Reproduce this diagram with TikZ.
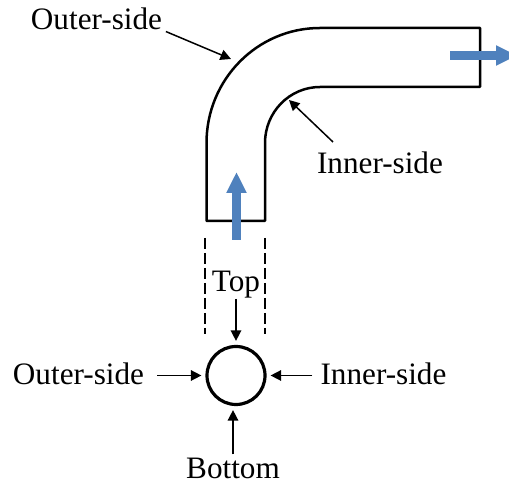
\documentclass[tikz,border=0pt]{standalone}
\usepackage{fontspec}
\setmainfont{Liberation Serif}
\usetikzlibrary{arrows.meta}
\definecolor{flowblue}{RGB}{79,129,189}
\tikzset{
    lbl/.style={anchor=base, inner sep=0pt, font=\fontsize{31.2}{34}\selectfont},
    pointer/.style={line width=1.5pt, -{Triangle[length=10.5pt,width=10.5pt]}},
    guide/.style={line width=1.4pt, dash pattern=on 11pt off 4pt},
    flow/.style={line width=9.5pt, flowblue, -{Triangle[length=21pt,width=19pt]}}
}
\begin{document}
\begin{tikzpicture}[x=1pt,y=1pt]
        \useasboundingbox (0,0) rectangle (509,486);
        % pipe
        \draw[line width=2.5pt, line join=round] (206.5,265) -- (206.5,343) arc (180:90:113.5 and 115) -- (480,458) -- (480,399) -- (320,399) arc (90:180:55 and 56) -- (265,265) -- cycle;
        % flow direction
        \coordinate (inS) at (236.5,246);
        \coordinate (inE) at (236.5,314);
        \coordinate (outS) at (450,430.5);
        \coordinate (outE) at (517,430.5);
        \draw[flow] (inS) -- (inE);
        \draw[flow] (outS) -- (outE);
        % projection of the pipe on the section
        \coordinate (gl1) at (205,248);
        \coordinate (gl2) at (205,152);
        \coordinate (gr1) at (265,248);
        \coordinate (gr2) at (265,152);
        \draw[guide] (gl1) -- (gl2);
        \draw[guide] (gr1) -- (gr2);
        % section
        \node[circle, draw, line width=3.2pt, minimum size=58pt, inner sep=0pt] (section) at (236,110.5) {};
        % labels
        \node[lbl] (outerTop) at (96.5,456) {Outer-side};
        \node[lbl] (innerTop) at (380,312) {Inner-side};
        \node[lbl] (top) at (236,194) {Top};
        \node[lbl] (outerSec) at (78.5,101) {Outer-side};
        \node[lbl] (innerSec) at (383.5,101) {Inner-side};
        \node[lbl] (bottom) at (233,7) {Bottom};
        % pointers
        \coordinate (outerBend) at (231,427);
        \coordinate (innerBend) at (289,386);
        \coordinate (innerTail) at (333,344);
        \draw[pointer, shorten <=4pt] (outerTop.base east) -- (outerBend);
        \draw[pointer] (innerTail) -- (innerBend);
        \draw[pointer, shorten >=4pt] (top) -- (section);
        \draw[pointer, shorten <=13pt, shorten >=4pt] (outerSec.east |- section) -- (section);
        \draw[pointer, shorten <=8pt, shorten >=4pt] (innerSec.west |- section) -- (section);
        \draw[pointer, shorten <=4pt, shorten >=4pt] (bottom.north) -- (bottom.north |- section.south);
    \end{tikzpicture}
\end{document}
